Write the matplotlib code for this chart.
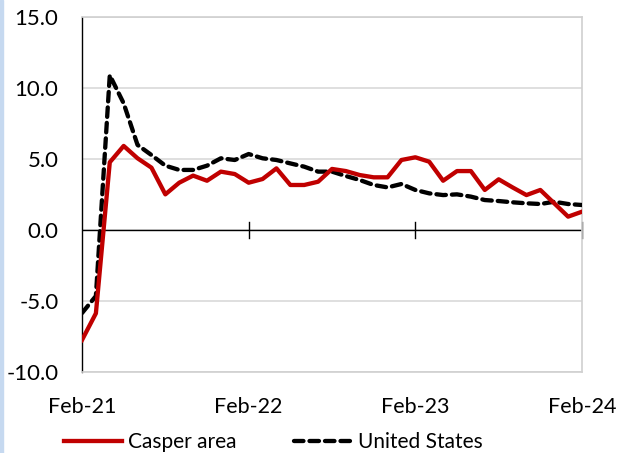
import matplotlib
matplotlib.use("Agg")
import matplotlib.pyplot as plt
import numpy as np
from matplotlib.lines import Line2D
from matplotlib.patches import Rectangle

plt.rcParams['font.family'] = ['Lato', 'DejaVu Sans']

casper = [-7.75, -5.87, 4.77, 5.92, 5.05, 4.39, 2.51, 3.33, 3.83, 3.47,
          4.11, 3.94, 3.33, 3.59, 4.34, 3.17, 3.17, 3.40, 4.30, 4.15,
          3.87, 3.71, 3.71, 4.93, 5.12, 4.81, 3.47, 4.15, 4.15, 2.82,
          3.57, 3.00, 2.46, 2.82, 1.88, 0.94, 1.29]
us = [-5.85, -4.65, 10.9, 8.92, 5.99, 5.28, 4.53, 4.23, 4.23, 4.53,
      5.05, 4.93, 5.35, 5.05, 4.93, 4.69, 4.46, 4.11, 4.11, 3.80,
      3.52, 3.17, 3.00, 3.24, 2.82, 2.58, 2.46, 2.51, 2.35, 2.11,
      2.04, 1.95, 1.88, 1.83, 1.99, 1.83, 1.76]
xtick_labels = ['Feb-21', 'Feb-22', 'Feb-23', 'Feb-24']
ytick_values = [-10, -5, 0, 5, 10, 15]
series_names = ['Casper area', 'United States']

fig = plt.figure(figsize=(6.17, 4.53), dpi=100)
ax = fig.add_axes([82/617, 1-372/453, 500/617, 355/453])

x = np.arange(len(casper))
ax.plot(x, us, color='black', lw=3.1, ls=(0, (2.2, 1.4)), solid_capstyle='round',
        dash_capstyle='round', zorder=3)
ax.plot(x, casper, color='#c00000', lw=3.1, zorder=4)

ax.set_xlim(0, 36)
ax.set_ylim(-10, 15)
ax.set_yticks(ytick_values)
ax.set_yticklabels([f"{v:.1f}" for v in ytick_values], fontsize=16)
ax.set_xticks([0, 12, 24, 36])
ax.set_xticklabels([])
for xi, lab in zip([0, 12, 24, 36], xtick_labels):
    ax.text(xi, -12.45, lab, ha='center', va='center', fontsize=15.5, clip_on=False)

ax.grid(axis='y', color='#d9d9d9', lw=1.2, zorder=0)
for s in ['top', 'right', 'bottom']:
    ax.spines[s].set_color('#d0d0d0')
    ax.spines[s].set_linewidth(1.2)
ax.spines['left'].set_color('black')
ax.spines['left'].set_linewidth(1.0)
ax.axhline(0, color='black', lw=1.0, zorder=2)
ax.tick_params(axis='y', length=0, pad=17)
ax.tick_params(axis='x', length=0)
for xi in [12, 24, 36]:
    ax.plot([xi, xi], [-0.55, 0.55], color='black', lw=1.0, zorder=2, clip_on=False)

handles = [Line2D([], [], color='#c00000', lw=3.1),
           Line2D([], [], color='black', lw=3.1, ls=(0, (2.2, 1.4)), dash_capstyle='round')]
fig.legend(handles, series_names, loc='center', bbox_to_anchor=(0.443, 1-442/453),
           ncol=2, frameon=False, fontsize=15, handlelength=2.8, handletextpad=0.25,
           columnspacing=2.8)

fig.patches.append(Rectangle((0, 0), 3/617, 1, transform=fig.transFigure,
                             color='#c6d9f0', zorder=0))

fig.savefig('out.png', dpi=100)
